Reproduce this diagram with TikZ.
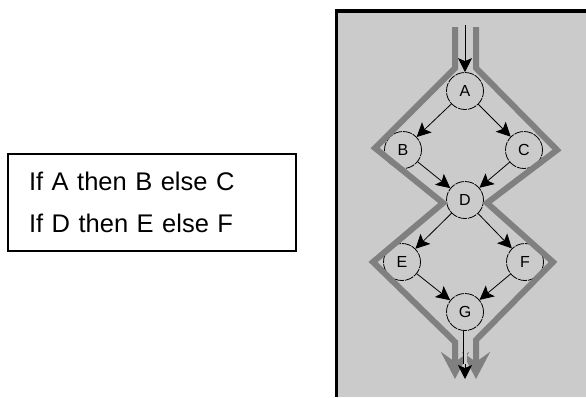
\documentclass[tikz,border=0pt]{standalone}
\usepackage{fontspec}
\setmainfont{Liberation Sans}
\usetikzlibrary{arrows.meta}
\definecolor{panel}{HTML}{CBCBCB}
\definecolor{flow}{HTML}{808080}

\begin{document}
\begin{tikzpicture}[x=1pt,y=-1pt,>=Stealth,
  cond/.style={circle,draw,line width=0.8pt,dash pattern=on 9pt off 1pt,minimum size=37pt,inner sep=0pt,font=\fontsize{16}{16}\selectfont},
  edge/.style={-{Stealth[length=14pt,width=14pt,inset=3pt]},line width=0.8pt},
  flowline/.style={draw=flow,line width=6pt,line join=miter,-{Stealth[length=27pt,width=28pt,inset=10pt]}}]
\useasboundingbox (0,0) rectangle (586,397);
% condition text
\node[draw,line width=1.2pt,minimum width=288pt,minimum height=97pt,inner xsep=21pt,text width=246pt,align=left,
  font=\fontsize{25.5}{42}\selectfont] (rules) at (152,202.5) {If A then B else C\\If D then E else F};
% panel on the right
\fill[panel] (336,11) rectangle (586,397);
\draw[line width=3.5pt] (336.5,397) -- (336.5,11) -- (586,11);
\node[cond] (A) at (465,91) {A};
\node[cond] (B) at (403,150) {B};
\node[cond] (C) at (524,150) {C};
\node[cond] (D) at (465,200) {D};
\node[cond] (E) at (402,262) {E};
\node[cond] (F) at (525,262) {F};
\node[cond] (G) at (465,312) {G};
% outline of the flow
\draw[flowline] (455,27) -- (455,68) -- (375,148) -- (443,203) -- (373,262) -- (455,342) -- (455,379);
\draw[flowline] (476,27) -- (476,68) -- (557,150) -- (487,203) -- (553,262) -- (476,340) -- (476,379);
\coordinate (in) at (465,25);
\coordinate (gend) at (465,364);
\coordinate (out) at (465,379);
\draw[edge] (in) -- (A);
\draw[edge] (A) -- (B);\draw[edge] (A) -- (C);
\draw[edge] (B) -- (D);\draw[edge] (C) -- (D);
\draw[edge] (D) -- (E);\draw[edge] (D) -- (F);
\draw[edge] (E) -- (G);\draw[edge] (F) -- (G);
\draw[line width=0.8pt,double=panel,double distance=3pt] (G) -- (gend);
\draw[edge] (gend) -- (out);
\end{tikzpicture}
\end{document}
